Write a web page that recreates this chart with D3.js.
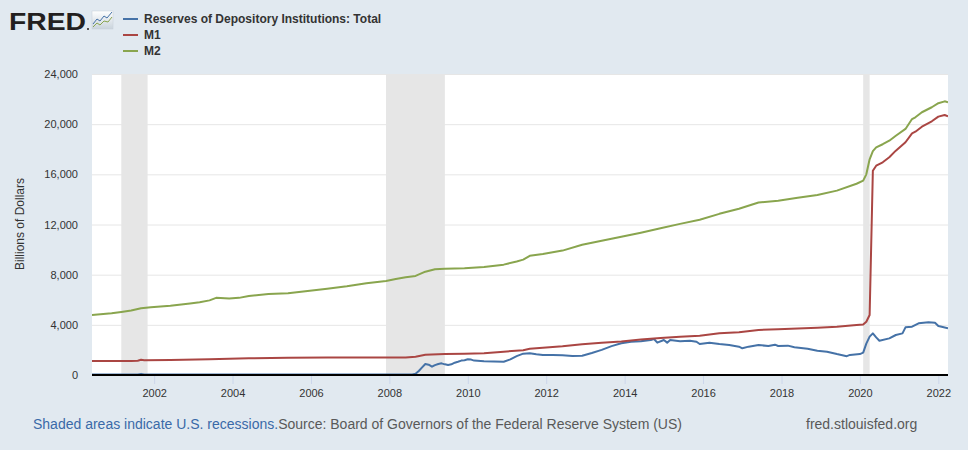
<!DOCTYPE html>
<html>
<head>
<meta charset="utf-8">
<script src="https://cdn.jsdelivr.net/npm/d3@7"></script>
<style>
html,body{margin:0;padding:0;background:#e1e9f0;}
svg{display:block;font-family:"Liberation Sans",Arial,Helvetica,sans-serif;}
</style>
</head>
<body>
<svg id="chart" width="968" height="450"></svg>
<script>
// ---- data (billions of dollars) ----
const seriesNames = ["Reserves of Depository Institutions: Total", "M1", "M2"];
const seriesColors = ["#4572a7", "#aa4643", "#89a54e"];

const resDates = ["2000-06","2001-08","2001-09","2001-10","2002-06","2004-06","2006-06","2008-06","2008-08","2008-09","2008-10","2008-11","2008-12","2009-01","2009-02","2009-03","2009-04","2009-05","2009-06","2009-07","2009-08","2009-09","2009-10","2009-11","2009-12","2010-01","2010-02","2010-03","2010-06","2010-09","2010-12","2011-02","2011-04","2011-06","2011-08","2011-10","2011-12","2012-03","2012-06","2012-09","2012-12","2013-03","2013-06","2013-09","2013-12","2014-03","2014-06","2014-09","2014-10","2014-11","2015-01","2015-02","2015-03","2015-06","2015-09","2015-11","2015-12","2016-03","2016-06","2016-09","2016-12","2017-01","2017-03","2017-06","2017-09","2017-11","2017-12","2018-03","2018-05","2018-09","2018-12","2019-03","2019-06","2019-09","2019-10","2020-01","2020-02","2020-03","2020-04","2020-05","2020-06","2020-07","2020-10","2020-12","2021-02","2021-03","2021-05","2021-07","2021-10","2021-12","2022-01","2022-02","2022-04"];
const resValues = [40,40,90,45,40,45,43,45,45,100,320,610,880,820,660,790,880,930,850,800,850,980,1060,1150,1180,1250,1230,1150,1100,1080,1060,1250,1500,1700,1730,1650,1600,1600,1570,1520,1530,1750,2000,2300,2530,2650,2700,2790,2870,2580,2790,2580,2790,2700,2730,2650,2470,2580,2470,2390,2260,2130,2260,2390,2310,2420,2310,2340,2210,2100,1940,1860,1670,1500,1600,1670,1780,2500,3060,3320,3000,2730,2920,3190,3320,3800,3850,4120,4200,4170,3910,3850,3720];

const m1Dates = ["2000-06","2001-06","2001-08","2001-09","2001-10","2002-06","2003-06","2004-06","2005-06","2006-06","2007-06","2008-06","2008-09","2008-12","2009-06","2009-12","2010-06","2010-12","2011-06","2011-08","2011-12","2012-06","2012-12","2013-06","2013-12","2014-06","2014-12","2015-06","2015-12","2016-06","2016-12","2017-06","2017-12","2018-06","2018-12","2019-06","2019-12","2020-02","2020-03","2020-04","2020-05","2020-06","2020-08","2020-10","2020-12","2021-03","2021-05","2021-06","2021-08","2021-11","2022-01","2022-03","2022-04"];
const m1Values = [1110,1120,1140,1210,1170,1190,1260,1330,1370,1390,1390,1400,1460,1610,1670,1700,1740,1860,1980,2100,2170,2290,2450,2580,2680,2830,2950,3050,3130,3320,3410,3590,3650,3710,3770,3850,3990,4030,4250,4780,16290,16690,16960,17360,17890,18560,19270,19400,19800,20230,20600,20730,20630];

const m2Dates = ["2000-06","2000-12","2001-03","2001-06","2001-09","2001-12","2002-06","2002-12","2003-03","2003-06","2003-08","2003-12","2004-03","2004-06","2004-12","2005-06","2005-12","2006-06","2006-12","2007-06","2007-12","2008-03","2008-06","2008-09","2008-12","2009-03","2009-06","2009-12","2010-06","2010-12","2011-04","2011-06","2011-08","2011-12","2012-06","2012-12","2013-06","2013-12","2014-06","2014-12","2015-06","2015-12","2016-06","2016-12","2017-06","2017-12","2018-06","2018-12","2019-06","2019-12","2020-02","2020-03","2020-04","2020-05","2020-06","2020-08","2020-10","2020-12","2021-03","2021-05","2021-06","2021-08","2021-11","2022-01","2022-03","2022-04"];
const m2Values = [4780,4920,5030,5150,5330,5400,5530,5700,5800,5950,6150,6100,6150,6300,6450,6520,6700,6880,7080,7320,7500,7660,7790,7900,8240,8430,8470,8520,8620,8800,9050,9200,9500,9650,9920,10380,10700,11030,11350,11700,12050,12380,12850,13250,13750,13900,14140,14350,14700,15250,15500,16000,17200,17850,18150,18400,18680,19080,19620,20410,20550,20950,21350,21670,21820,21750];

const recessions = [["2001-03","2001-11"],["2007-12","2009-06"],["2020-02","2020-04"]];
const yTicks = [0,4000,8000,12000,16000,20000,24000];
const xTickYears = [2002,2004,2006,2008,2010,2012,2014,2016,2018,2020,2022];

// ---- layout ----
const svg = d3.select("#chart");
const parse = d3.timeParse("%Y-%m");
const pLeft = 92, pRight = 948, pTop = 74, pBottom = 375;

const x = d3.scaleTime().domain([parse("2000-06"), parse("2022-04")]).range([pLeft, pRight]);
const y = d3.scaleLinear().domain([0, 24000]).range([pBottom, pTop]);

// plot background
svg.append("rect").attr("x", pLeft).attr("y", pTop).attr("width", pRight - pLeft).attr("height", pBottom - pTop).attr("fill", "#ffffff");

// recessions
svg.append("g").selectAll("rect").data(recessions).join("rect")
  .attr("x", d => x(parse(d[0])))
  .attr("y", pTop)
  .attr("width", d => x(parse(d[1])) - x(parse(d[0])))
  .attr("height", pBottom - pTop)
  .attr("fill", "#e6e6e6");

// gridlines
svg.append("g").selectAll("line").data(yTicks.filter(t => t > 0)).join("line")
  .attr("x1", pLeft).attr("x2", pRight)
  .attr("y1", d => y(d) + 0.5).attr("y2", d => y(d) + 0.5)
  .attr("stroke", "#e6e6e6").attr("stroke-width", 1);

// y axis labels
const yAxis = d3.axisLeft(y).tickValues(yTicks).tickFormat(d3.format(",")).tickSize(0).tickPadding(0);
const gy = svg.append("g").attr("transform", `translate(${pLeft - 14},0)`).call(yAxis);
gy.select(".domain").remove();
gy.selectAll("text").attr("font-size", 11).attr("fill", "#333333").attr("font-family", "'Liberation Sans',Arial,sans-serif");

// x axis
const xAxis = d3.axisBottom(x)
  .tickValues(xTickYears.map(yr => new Date(yr, 0, 1)))
  .tickFormat(d3.timeFormat("%Y")).tickSize(9).tickPadding(5);
const gx = svg.append("g").attr("transform", `translate(0,${pBottom})`).call(xAxis);
gx.select(".domain").remove();
gx.selectAll(".tick line").attr("stroke", "#ccd6eb");
gx.selectAll("text").attr("font-size", 11).attr("fill", "#333333").attr("font-family", "'Liberation Sans',Arial,sans-serif");

// y title
svg.append("text").attr("transform", "translate(24,224) rotate(-90)")
  .attr("text-anchor", "middle").attr("font-size", 12).attr("fill", "#333333")
  .text("Billions of Dollars");

// lines
const mk = (dates, vals) => dates.map((d, i) => ({date: parse(d), value: vals[i]}));
const series = [mk(resDates, resValues), mk(m1Dates, m1Values), mk(m2Dates, m2Values)];
const line = d3.line().x(d => x(d.date)).y(d => y(d.value));
svg.append("clipPath").attr("id", "clip").append("rect")
  .attr("x", pLeft).attr("y", pTop - 2).attr("width", pRight - pLeft).attr("height", pBottom - pTop + 2);
series.forEach((s, i) => {
  svg.append("path").datum(s).attr("d", line)
    .attr("fill", "none").attr("stroke", seriesColors[i]).attr("stroke-width", 2)
    .attr("stroke-linejoin", "round").attr("clip-path", "url(#clip)");
});

// bottom axis line
svg.append("line").attr("x1", pLeft).attr("x2", pRight).attr("y1", pBottom).attr("y2", pBottom)
  .attr("stroke", "#000000").attr("stroke-width", 2);

// FRED logo
const logo = svg.append("g");
logo.append("text").attr("x", 9).attr("y", 30).attr("font-size", 24).attr("font-weight", "bold")
  .attr("fill", "#231f20").attr("textLength", 77).attr("lengthAdjust", "spacingAndGlyphs")
  .attr("font-family", "'Liberation Sans',Arial,sans-serif").text("FRED");
logo.append("circle").attr("cx", 88).attr("cy", 29).attr("r", 1).attr("fill", "#231f20");
const grad = svg.append("defs").append("linearGradient").attr("id", "lg").attr("x1", 0).attr("y1", 0).attr("x2", 0).attr("y2", 1);
grad.append("stop").attr("offset", "0%").attr("stop-color", "#ffffff");
grad.append("stop").attr("offset", "100%").attr("stop-color", "#c9d3dc");
logo.append("rect").attr("x", 92).attr("y", 11).attr("width", 21).attr("height", 18).attr("fill", "url(#lg)").attr("stroke", "#c8d0d8").attr("stroke-width", 0.5);
logo.append("polyline").attr("points", "93,24 97,19 100,21 104,16 107,18 112,12")
  .attr("fill", "none").attr("stroke", "#4572a7").attr("stroke-width", 1);
logo.append("polyline").attr("points", "93,27 97,23 100,25 104,21 108,22 112,17")
  .attr("fill", "none").attr("stroke", "#89a54e").attr("stroke-width", 1);

// legend
const lg = svg.append("g");
seriesNames.forEach((n, i) => {
  const yy = 19 + i * 16;
  lg.append("line").attr("x1", 123).attr("x2", 138).attr("y1", yy).attr("y2", yy)
    .attr("stroke", seriesColors[i]).attr("stroke-width", 2);
  lg.append("text").attr("x", 144).attr("y", yy + 4).attr("font-size", 12).attr("font-weight", "bold")
    .attr("fill", "#333333").text(n);
});

// footer
const ft = svg.append("text").attr("x", 33).attr("y", 429).attr("font-size", 14);
ft.append("tspan").attr("fill", "#3a6aa8").text("Shaded areas indicate U.S. recessions.");
ft.append("tspan").attr("fill", "#595959").text("Source: Board of Governors of the Federal Reserve System (US)");
svg.append("text").attr("x", 806).attr("y", 429).attr("font-size", 14).attr("fill", "#595959").text("fred.stlouisfed.org");
</script>
</body>
</html>
